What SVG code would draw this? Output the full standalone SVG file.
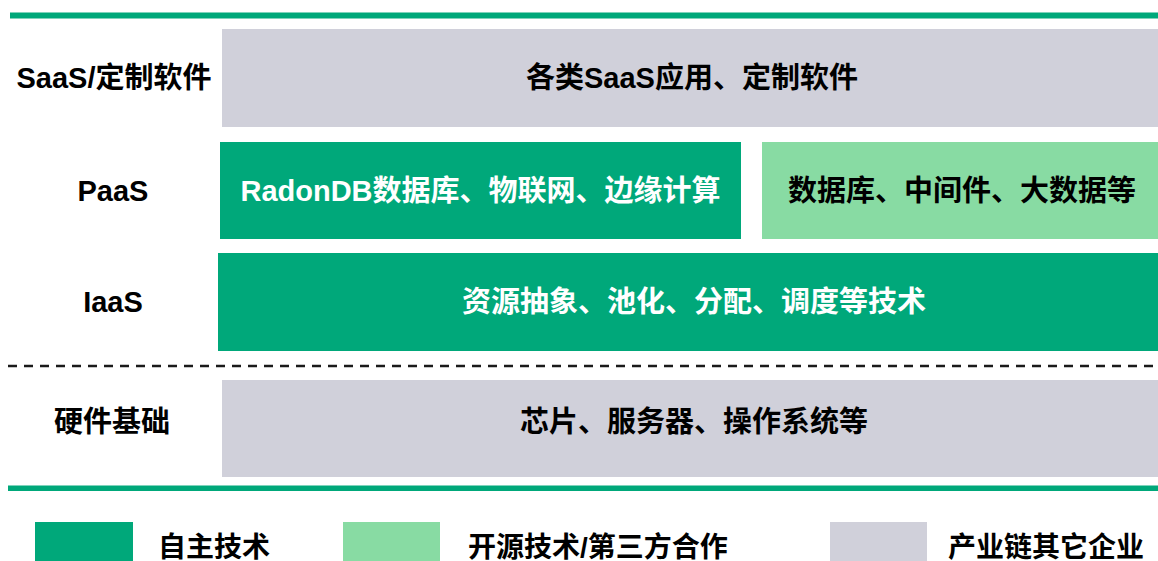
<svg xmlns="http://www.w3.org/2000/svg" width="1158" height="561" viewBox="0 0 1158 561">
<style>
.dk{fill:#00A87A}
.lt{fill:#88DBA3}
.gy{fill:#D0D0DA}
.t{font-family:"Liberation Sans","Noto Sans CJK SC",sans-serif;font-size:29px;font-weight:bold}
.c{text-anchor:middle}
.w{fill:#FFFFFF}
.b{fill:#000000}
.lg{font-family:"Liberation Sans","Noto Sans CJK SC",sans-serif;font-size:28px;font-weight:bold;fill:#000}
</style>
<rect width="1158" height="561" fill="#FFFFFF"/>
<g id="separators">
<rect x="10" y="12.5" width="1148" height="6" class="dk"/>
<line x1="8" y1="366" x2="1158" y2="366" stroke="#1a1a1a" stroke-width="2.5" stroke-dasharray="9,7"/>
<rect x="8" y="485.5" width="1150" height="5.5" class="dk"/>
</g>
<g id="saas">
<text x="114" y="88" class="t c b">SaaS/定制软件</text>
<rect x="222" y="29" width="936" height="98" class="gy"/>
<text x="692" y="88" class="t c b">各类SaaS应用、定制软件</text>
</g>
<g id="paas">
<text x="113" y="201" class="t c b">PaaS</text>
<rect x="220" y="142" width="521" height="97" class="dk"/>
<text x="480.5" y="201" class="t c w">RadonDB数据库、物联网、边缘计算</text>
<rect x="762" y="142" width="396" height="97" class="lt"/>
<text x="962" y="201" class="t c b">数据库、中间件、大数据等</text>
</g>
<g id="iaas">
<text x="113" y="312" class="t c b">IaaS</text>
<rect x="218" y="253" width="940" height="98" class="dk"/>
<text x="694" y="312" class="t c w">资源抽象、池化、分配、调度等技术</text>
</g>
<g id="hardware">
<text x="112" y="432" class="t c b">硬件基础</text>
<rect x="222" y="380" width="936" height="97" class="gy"/>
<text x="694" y="432" class="t c b">芯片、服务器、操作系统等</text>
</g>
<g id="legend-own">
<rect x="35" y="522" width="98" height="45" class="dk"/>
<text x="158" y="557" class="lg">自主技术</text>
</g>
<g id="legend-open">
<rect x="343" y="522" width="97" height="45" class="lt"/>
<text x="468" y="557" class="lg">开源技术/第三方合作</text>
</g>
<g id="legend-other">
<rect x="830" y="522" width="97" height="45" class="gy"/>
<text x="948" y="557" class="lg">产业链其它企业</text>
</g>
</svg>
